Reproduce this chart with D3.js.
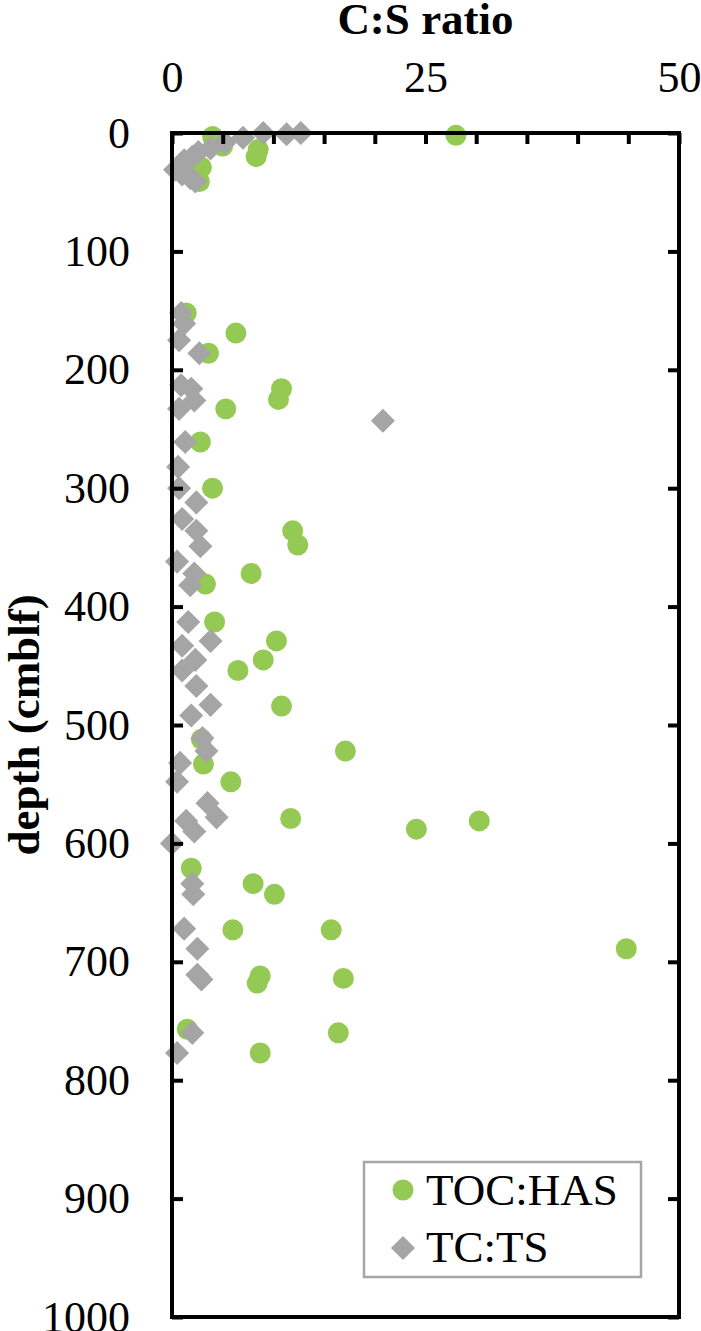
<!DOCTYPE html>
<html>
<head>
<meta charset="utf-8">
<script src="https://cdn.jsdelivr.net/npm/d3@7"></script>
<style>
  body { margin: 0; background: #fff; }
  svg text { font-family: "Liberation Serif", "Times New Roman", serif; fill: #000; }
</style>
</head>
<body>
<svg id="chart" width="701" height="1331"></svg>
<script>
// TOC:HAS ratio vs depth (cmblf)
const tocHasRatio = [28.0, 4.0, 5.0, 8.5, 8.3, 2.9, 2.7, 1.4, 6.3, 3.6, 10.8, 10.5, 5.3, 2.8, 4.0, 11.9, 12.4, 7.8, 3.3, 4.2,
  10.3, 9.0, 6.5, 10.8, 2.9, 17.1, 3.1, 5.8, 11.7, 30.3, 24.1, 1.9, 8.0, 10.1, 6.0, 15.7, 44.8, 8.7, 8.4, 16.9, 1.5, 16.4, 8.7];
const tocHasDepth = [2, 3, 11, 14, 20, 29, 41, 152, 169, 186, 216, 225, 233, 261, 300, 336, 348, 372, 381, 413,
  429, 445, 454, 484, 512, 522, 533, 548, 579, 581, 588, 621, 634, 643, 673, 673, 689, 712, 718, 714, 757, 760, 777];

// TC:TS ratio vs depth
const tcTsRatio = [12.7, 11.3, 9.0, 7.0, 5.2, 3.8, 2.6, 2.0, 1.2, 0.7, 0.3, 1.0, 1.8, 2.3,
  0.9, 1.2, 0.7, 2.7, 0.9, 1.9, 2.2, 0.7, 20.8, 1.3, 0.6, 0.7, 2.4, 1.0, 2.4, 2.8, 0.5, 2.2, 1.8, 1.6,
  3.8, 1.0, 2.3, 1.0, 2.4, 3.8, 1.9, 3.0, 3.4, 0.8, 0.5, 3.5, 4.4, 1.4, 2.2, 0.0, 2.0, 2.1, 1.2, 2.5,
  2.5, 2.9, 2.0, 0.5];
const tcTsDepth = [0, 1, 0, 4, 8, 13, 16, 20, 23, 28, 31, 35, 38, 41,
  152, 161, 175, 186, 213, 216, 226, 233, 243, 261, 282, 300, 312, 326, 336, 349, 362, 372, 382, 413,
  429, 433, 445, 454, 467, 483, 492, 511, 522, 532, 548, 566, 578, 581, 590, 600, 634, 643, 672, 689,
  711, 715, 760, 777];

const xTicks = [0, 25, 50];
const yTicks = [0, 100, 200, 300, 400, 500, 600, 700, 800, 900, 1000];
const seriesNames = ["TOC:HAS", "TC:TS"];

const green = "#94c954";
const gray = "#a5a5a5";
const serif = "Liberation Serif, Times New Roman, serif";

const svg = d3.select("#chart");
const plotLeft = 172, plotRight = 679, plotTop = 133, plotBottom = 1317;

const x = d3.scaleLinear().domain([0, 50]).range([plotLeft, plotRight]);
const y = d3.scaleLinear().domain([0, 1000]).range([plotTop, plotBottom]);

const circle = d3.symbol().type(d3.symbolCircle).size(346);
const diamond = d3.symbol().type(d3.symbolSquare).size(290);

// points
svg.append("g").selectAll("path")
  .data(tocHasRatio.map((v, i) => [v, tocHasDepth[i]]))
  .join("path")
  .attr("d", circle)
  .attr("transform", d => `translate(${x(d[0])},${y(d[1])})`)
  .attr("fill", green);

svg.append("g").selectAll("path")
  .data(tcTsRatio.map((v, i) => [v, tcTsDepth[i]]))
  .join("path")
  .attr("d", diamond)
  .attr("transform", d => `translate(${x(d[0])},${y(d[1])}) rotate(45)`)
  .attr("fill", gray);

// axes
const topAxis = svg.append("g")
  .attr("transform", `translate(0,${plotTop})`)
  .call(d3.axisTop(x).tickValues(d3.range(0, 51, 5)).tickSize(-11).tickSizeOuter(0).tickPadding(41)
    .tickFormat(d => xTicks.includes(d) ? d : ""));

const leftAxis = svg.append("g")
  .attr("transform", `translate(${plotLeft},0)`)
  .call(d3.axisLeft(y).tickValues(yTicks).tickSize(-11).tickSizeOuter(0).tickPadding(42)
    .tickFormat(d3.format("d")));

const rightAxis = svg.append("g")
  .attr("transform", `translate(${plotRight},0)`)
  .call(d3.axisRight(y).tickValues(yTicks).tickSize(-11).tickSizeOuter(0).tickFormat(""));

[topAxis, leftAxis, rightAxis].forEach(g => {
  g.attr("font-family", serif);
  g.select(".domain").remove();
  g.selectAll(".tick line").attr("stroke", "#000").attr("stroke-width", 4);
  g.selectAll(".tick text").attr("font-size", 44).attr("font-family", serif);
});

svg.append("rect")
  .attr("x", plotLeft).attr("y", plotTop)
  .attr("width", plotRight - plotLeft).attr("height", plotBottom - plotTop)
  .attr("fill", "none").attr("stroke", "#000").attr("stroke-width", 4);

// titles
svg.append("text")
  .attr("x", (plotLeft + plotRight) / 2).attr("y", 34)
  .attr("text-anchor", "middle")
  .attr("font-family", serif)
  .attr("font-size", 45).attr("font-weight", "bold")
  .text("C:S ratio");

svg.append("text")
  .attr("transform", `translate(39,${(plotTop + plotBottom) / 2}) rotate(-90)`)
  .attr("text-anchor", "middle")
  .attr("font-family", serif)
  .attr("font-size", 45).attr("font-weight", "bold")
  .text("depth (cmblf)");

// legend
const legend = svg.append("g");
legend.append("rect")
  .attr("x", 364).attr("y", 1162).attr("width", 277).attr("height", 115)
  .attr("fill", "#fff").attr("stroke", "#a6a6a6").attr("stroke-width", 2.5);

legend.append("path").attr("d", circle)
  .attr("transform", "translate(403,1190)").attr("fill", green);
legend.append("path").attr("d", diamond)
  .attr("transform", "translate(403,1248) rotate(45)").attr("fill", gray);

legend.selectAll("text.lab")
  .data(seriesNames)
  .join("text")
  .attr("class", "lab")
  .attr("x", 426)
  .attr("y", (d, i) => 1205 + i * 57)
  .attr("font-family", serif)
  .attr("font-size", 45)
  .text(d => d);
</script>
</body>
</html>
